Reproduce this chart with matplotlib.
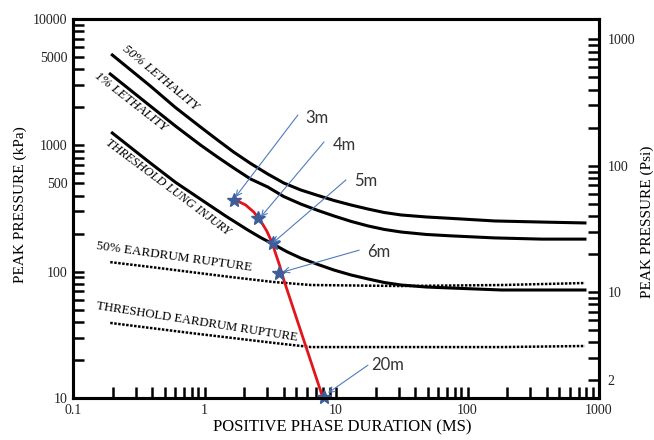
import matplotlib
matplotlib.use("Agg")
import matplotlib.pyplot as plt
from matplotlib.ticker import LogLocator, NullFormatter, FixedLocator, FixedFormatter

# curves: positive phase duration (ms) -> peak pressure (kPa)
lethal50_ms = [0.199, 0.387, 0.601, 0.932, 1.256, 1.665, 2.244, 3.026, 4.01, 5.40, 7.29,
               9.65, 13.02, 17.55, 23.25, 31.3, 48.6, 75.5, 160.7, 367, 782]
lethal50_kpa = [5190, 2950, 1993, 1397, 1102, 885, 718, 593, 503, 443, 401,
                366, 337, 313, 294, 281, 271, 264, 252, 247, 243]

lethal1_ms = [0.192, 0.387, 0.601, 0.932, 1.256, 1.665, 2.244, 3.026, 4.01, 5.40, 7.29,
              9.65, 13.02, 17.55, 23.25, 31.3, 48.6, 75.5, 160.7, 367, 782]
lethal1_kpa = [3670, 2048, 1422, 1006, 808, 662, 541, 468, 393, 343, 305,
               276, 250, 230, 216, 206, 197, 192, 185, 181, 181]

lung_ms = [0.199, 0.387, 0.601, 0.932, 1.446, 2.13, 2.676, 3.305, 4.227, 5.40, 7.29,
           9.65, 13.02, 17.55, 23.25, 31.3, 48.6, 75.5, 181.8, 782]
lung_kpa = [1252, 725, 510, 375, 276, 214, 186, 166, 144, 128, 114,
            103, 94.1, 87.5, 82.1, 78.4, 75.6, 74.2, 71.6, 71.6]

ear50_ms = [0.192, 0.387, 0.782, 1.58, 3.36, 6.45, 31.3, 182, 782]
ear50_kpa = [119, 109, 99.4, 90.7, 82.8, 78.4, 77.0, 78.4, 81.3]

ear_thr_ms = [0.192, 0.782, 3.36, 6.45, 31.3, 182, 782]
ear_thr_kpa = [39.3, 32.7, 27.3, 25.3, 25.3, 25.3, 25.8]

# red trajectory through the stand-off distances
path_ms = [1.724, 2.056, 2.366, 2.676, 2.974, 3.248, 3.483, 3.737, 4.01, 7.96]
path_kpa = [369, 337, 297, 252, 210, 172, 138, 111, 86, 10]

dist_labels = ["3m", "4m", "5m", "6m", "20m"]
dist_ms = [1.665, 2.54, 3.31, 3.67, 8.1]
dist_kpa = [369, 266, 169, 98, 10.2]

KPA_PER_PSI = 6.895

fig = plt.figure(figsize=(6.54, 4.40), dpi=100)
ax = fig.add_axes([73 / 654, 1 - 398 / 440, 526 / 654, 379 / 440])
serif = "Liberation Serif"

ax.plot(lethal50_ms, lethal50_kpa, color="black", lw=2.2)
ax.plot(lethal1_ms, lethal1_kpa, color="black", lw=2.2)
ax.plot(lung_ms, lung_kpa, color="black", lw=2.2)
ax.plot(ear50_ms, ear50_kpa, color="black", lw=1.8, ls=(0, (1, 0.6)))
ax.plot(ear_thr_ms, ear_thr_kpa, color="black", lw=1.8, ls=(0, (1, 0.6)))
ax.plot(path_ms, path_kpa, color="#e3141b", lw=2.0, zorder=4)
ax.plot(dist_ms, dist_kpa, ls="none", marker="*", ms=10, color="#3d5d99",
        zorder=5, clip_on=False)

# arrows from the distance labels to the stars
tails = [(5.13, 1738), (8.1, 1063), (11.9, 532), (15.0, 148), (17.5, 18.2)]
heads = [(1.72, 390), (2.68, 271), (3.31, 169), (3.94, 99.4), (8.69, 10.95)]
texts = [(5.8, 1646), (9.5, 1006), (13.7, 522), (17.3, 143), (18.5, 18.2)]
for lab, t, h, p in zip(dist_labels, tails, heads, texts):
    ax.annotate("", xy=h, xytext=t,
                arrowprops=dict(arrowstyle="->", color="#4f7bbd", lw=0.8,
                                shrinkA=0, shrinkB=0), zorder=6)
    ax.text(p[0], p[1], lab, fontsize=12, family="Lato", color="#333333",
            ha="left", va="center")

ax.text(0.461, 3412, "50% LETHALITY", rotation=-39.7, rotation_mode="anchor",
        ha="center", va="center", fontsize=9.5, style="italic", family=serif)
ax.text(0.272, 2203, "1% LETHALITY", rotation=-38, rotation_mode="anchor",
        ha="center", va="center", fontsize=9.5, style="italic", family=serif)
ax.text(0.530, 462, "THRESHOLD LUNG INJURY", rotation=-36.8, rotation_mode="anchor",
        ha="center", va="center", fontsize=9, style="italic", family=serif)
ax.text(0.590, 130.6, "50% EARDRUM RUPTURE", rotation=-8, rotation_mode="anchor",
        ha="center", va="center", fontsize=9.5, family=serif)
ax.text(0.869, 40, "THRESHOLD EARDRUM RUPTURE", rotation=-9, rotation_mode="anchor",
        ha="center", va="center", fontsize=9.2, family=serif)

ax.set_xscale("log")
ax.set_yscale("log")
ax.set_xlim(0.1, 1000)
ax.set_ylim(10, 10000)

ax.xaxis.set_major_locator(FixedLocator([0.1, 1, 10, 100, 1000]))
ax.xaxis.set_major_formatter(FixedFormatter(["0.1", "1", "10", "100", "1000"]))
ax.xaxis.set_minor_locator(LogLocator(base=10, subs=range(2, 10)))
ax.xaxis.set_minor_formatter(NullFormatter())
ax.yaxis.set_major_locator(FixedLocator([10, 100, 500, 1000, 5000, 10000]))
ax.yaxis.set_major_formatter(FixedFormatter(["10", "100", "500", "1000", "5000", "10000"]))
ax.yaxis.set_minor_locator(LogLocator(base=10, subs=range(2, 10)))
ax.yaxis.set_minor_formatter(NullFormatter())

ax.tick_params(which="both", direction="in", length=8, width=1.8, top=False, right=False,
               labelsize=10, pad=4, labelcolor="#222222")
for lab in ax.get_xticklabels() + ax.get_yticklabels():
    lab.set_family(serif)
for sp in ax.spines.values():
    sp.set_linewidth(2.2)

ax2 = ax.twinx()
ax2.set_yscale("log")
ax2.set_ylim(10 / KPA_PER_PSI, 10000 / KPA_PER_PSI)
ax2.yaxis.set_major_locator(FixedLocator([2, 10, 100, 1000]))
ax2.yaxis.set_major_formatter(FixedFormatter(["2", "10", "100", "1000"]))
ax2.yaxis.set_minor_locator(LogLocator(base=10, subs=range(2, 10)))
ax2.yaxis.set_minor_formatter(NullFormatter())
ax2.tick_params(which="both", direction="in", length=8, width=1.8,
                labelsize=10, pad=6, labelcolor="#222222")
for lab in ax2.get_yticklabels():
    lab.set_family(serif)
for sp in ax2.spines.values():
    sp.set_linewidth(2.2)

fig.text(20 / 654, 1 - 205 / 440, "PEAK PRESSURE (kPa)", rotation=90,
         ha="center", va="center", fontsize=11, family=serif)
fig.text(342 / 654, 1 - 427 / 440, "POSITIVE PHASE DURATION (MS)",
         ha="center", va="center", fontsize=12, family=serif)
fig.text(647 / 654, 1 - 222 / 440, "PEAK PRESSURE (Psi)", rotation=90,
         ha="center", va="center", fontsize=11, family=serif)

fig.savefig("out.png", dpi=100, facecolor="white")
